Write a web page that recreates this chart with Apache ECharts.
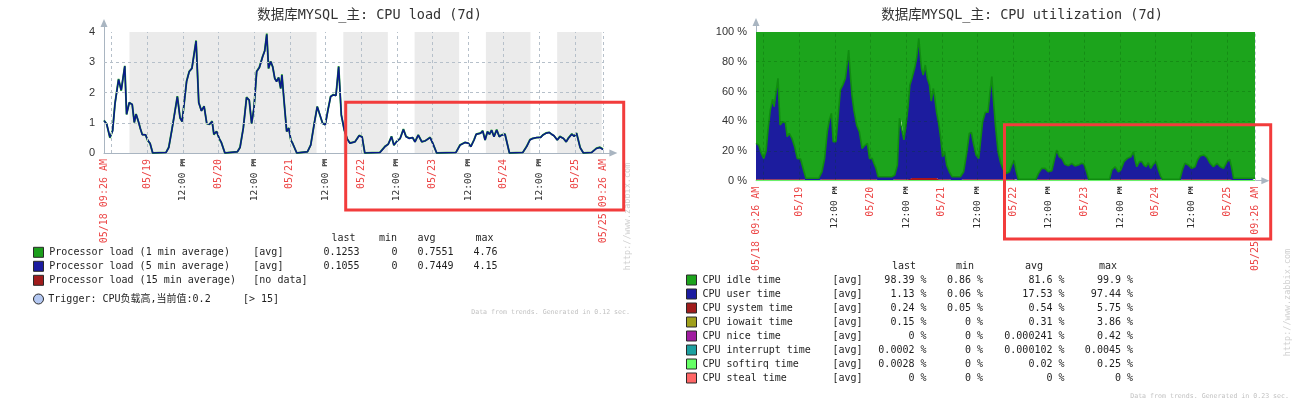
<!DOCTYPE html>
<html><head><meta charset="utf-8">
<script src="https://cdn.jsdelivr.net/npm/echarts@6/dist/echarts.min.js"></script>
<style>html,body{margin:0;padding:0;background:#fff}#c{width:1301px;height:413px}</style>
</head><body><div id="c"></div>
<script>
// ---------- data ----------
const startTime = '05/18 09:26';
const spanHours = 171.5; // axis length incl. arrow overhang (data covers 168h)

const tickTimes = ['05/18 09:26','05/18 12:00','05/19 00:00','05/19 12:00','05/20 00:00','05/20 12:00','05/21 00:00','05/21 12:00','05/22 00:00','05/22 12:00','05/23 00:00','05/23 12:00','05/24 00:00','05/24 12:00','05/25 00:00','05/25 09:26'];
const tickLabels = ['05/18 09:26 AM','12:00 PM','05/19','12:00 PM','05/20','12:00 PM','05/21','12:00 PM','05/22','12:00 PM','05/23','12:00 PM','05/24','12:00 PM','05/25','05/25 09:26 AM'];
const offTime = [['05/18 18:00','05/21 09:00'],['05/21 18:00','05/22 09:00'],['05/22 18:00','05/23 09:00'],['05/23 18:00','05/24 09:00'],['05/24 18:00','05/25 09:00']];
const loadTicks = [0,1,2,3,4];
const loadGrid = [1,2,3];
const cpuTicks = [0,20,40,60,80,100];
const cpuGrid = [20,40,60,80];

// hours since 05/18 09:26
const loadHours = [0,0.9,2.0,2.9,3.7,4.3,4.9,5.8,7.0,7.6,
8.5,9.5,10.2,10.8,11.7,12.2,12.9,14.0,14.7,15.5,
16.4,20.9,21.8,22.8,23.6,24.7,25.6,26.3,27.8,28.7,
29.6,31.0,31.9,32.8,33.7,34.6,35.5,36.4,37.0,37.9,
38.8,39.5,40.7,44.9,45.8,46.9,48.0,48.9,49.7,50.5,
51.4,52.3,53.4,54.1,54.8,55.4,56.1,56.8,57.5,58.1,
58.8,59.5,59.9,60.6,61.5,62.2,62.9,63.5,64.9,68.5,
69.6,70.8,71.8,72.7,73.6,74.5,75.4,76.3,77.2,78.1,
79.0,79.9,80.9,81.9,82.8,84.5,85.9,86.9,87.8,92.9,
94.6,95.7,96.8,97.6,98.5,99.7,100.8,101.7,102.8,103.9,
104.7,105.8,107.0,108.1,109.8,110.7,112.0,118.5,119.9,121.6,
122.7,123.5,124.6,125.3,126.8,127.5,128.3,129.1,129.8,130.5,
131.3,132.2,133.1,133.9,135.0,136.5,141.0,142.3,143.4,144.3,
145.7,147.0,147.7,148.8,149.9,150.7,151.5,152.6,153.5,154.7,
155.6,156.3,157.5,158.3,159.1,160.3,161.4,164.2,165.8,167.0,
168.0];
const load1 = [1.08,0.96,0.50,0.75,1.63,1.64,2.45,2.06,2.88,1.27,
1.67,1.60,1.01,1.29,1.00,0.82,0.61,0.60,0.42,0.32,
0,0.02,0.19,0.74,1.21,1.88,1.16,1.04,2.37,2.70,
2.80,3.72,1.66,1.40,1.55,0.97,0.95,1.05,0.61,0.72,
0.47,0.35,0,0.04,0.19,0.83,1.85,1.74,0.97,1.49,
2.70,2.83,3.19,3.38,3.95,2.79,3.03,2.85,2.46,2.37,
2.50,2.13,2.60,1.74,0.71,0.83,0.43,0.32,0,0.04,
0.27,0.99,1.54,1.25,0.98,0.94,1.43,1.87,1.93,1.90,
2.87,1.25,0.76,0.46,0.33,0.37,0.58,0.53,0,0.02,
0.22,0.29,0.55,0.26,0.38,0.48,0.79,0.54,0.49,0.51,
0.37,0.60,0.37,0.40,0.52,0.32,0,0.02,0.27,0.35,
0.32,0.21,0.44,0.62,0.66,0.74,0.43,0.71,0.62,0.76,
0.54,0.77,0.54,0.60,0.63,0,0.02,0.22,0.44,0.48,
0.51,0.52,0.59,0.66,0.68,0.62,0.57,0.43,0.55,0.48,
0.37,0.49,0.63,0.55,0.66,0.18,0,0.02,0.16,0.19,
0.13];
const load5 = [1.07,0.96,0.52,0.73,1.63,1.62,2.43,2.08,2.87,1.28,
1.66,1.61,1.01,1.28,1.01,0.82,0.60,0.60,0.43,0.32,
0,0.02,0.18,0.73,1.20,1.86,1.17,1.04,2.36,2.69,
2.80,3.70,1.67,1.39,1.54,0.98,0.95,1.04,0.62,0.71,
0.48,0.35,0,0.04,0.18,0.82,1.83,1.75,0.98,1.48,
2.69,2.82,3.18,3.37,3.92,2.80,3.02,2.85,2.47,2.36,
2.49,2.14,2.58,1.75,0.71,0.82,0.43,0.32,0,0.04,
0.26,0.98,1.53,1.26,0.98,0.93,1.42,1.86,1.92,1.90,
2.85,1.26,0.76,0.46,0.32,0.37,0.57,0.53,0,0.02,
0.21,0.29,0.54,0.26,0.37,0.48,0.78,0.54,0.48,0.51,
0.37,0.59,0.37,0.40,0.51,0.32,0,0.02,0.26,0.35,
0.32,0.21,0.43,0.62,0.65,0.73,0.43,0.70,0.62,0.75,
0.54,0.76,0.54,0.59,0.62,0,0.02,0.21,0.43,0.48,
0.51,0.51,0.59,0.65,0.68,0.62,0.57,0.43,0.54,0.48,
0.37,0.48,0.62,0.55,0.65,0.18,0,0.02,0.15,0.18,
0.11];

const cpuHours = [0,0.9,1.8,2.6,3.4,4.0,4.8,5.6,6.1,6.7,
7.4,8.1,9.0,9.9,10.5,11.2,12.1,13.0,13.9,15.0,
16.0,16.8,21.1,22.2,23.1,24.0,24.7,25.4,26.0,26.9,
27.6,28.4,29.2,30.1,30.8,31.2,31.7,32.3,33.0,33.9,
34.8,35.7,36.8,37.5,38.2,39.1,39.7,40.4,41.1,45.8,
46.7,47.6,48.3,48.9,49.8,50.5,51.2,51.8,52.5,53.4,
54.1,54.8,55.2,55.7,56.3,57.0,57.7,58.4,59.0,59.7,
60.1,60.8,61.5,62.2,62.8,63.5,64.2,65.1,66.0,68.8,
69.9,71.0,71.8,72.5,73.2,74.1,75.0,75.7,76.3,77.2,
78.1,78.8,79.4,79.9,80.6,81.5,82.4,83.3,84.4,85.3,
86.1,86.9,87.5,88.3,94.2,95.1,96.2,97.3,98.4,99.6,
100.3,101.2,102.1,103.0,104.0,105.2,106.3,107.4,108.5,109.6,
110.4,111.3,112.0,119.0,119.8,120.9,122.0,122.8,123.9,125.0,
126.2,127.1,127.6,128.2,129.1,129.9,130.6,131.3,132.1,132.9,
133.8,134.7,135.5,136.2,136.9,142.7,143.6,144.4,145.6,146.7,
147.8,148.6,149.5,150.7,151.8,152.9,154.0,155.2,156.3,157.4,
158.6,159.5,160.3,160.8,167.0,168.0];
const cpuSystem = [1,1,1,1,1,1,1,1,1,1,
1,1,1,1,1,1,1,1,1,1,
1,0.3,0.3,1,1,1,1,1,1,1,
1,1,1,1,1,1,1,1,1,1,
1,1,1,1,1,1,1,1,0.3,0.3,
1,1,1,1,1,1,1,1,1.8,1.8,
1.8,1.8,1.8,1.8,1.8,1.8,1.8,1.8,1.8,1.8,
1.8,1.8,1,1,1,1,1,1,0.3,0.3,
1,1,1,1,1,1,1,1,1,1,
1,1,1,1,1,1,1,1,1,1,
1,1,1,0.3,0.3,1,1,1,1,1,
1,1,1,1,1,1,1,1,1,1,
1,1,0.3,0.3,1,1,1,1,1,1,
1,1,1,1,1,1,1,1,1,1,
1,1,1,1,0.3,0.3,1,1,1,1,
1,1,1,1,1,1,1,1,1,1,
1,1,1,0.3,0.3,0.3];
const cpuUser = [24.1,23.0,17.4,14.0,19.0,32.4,46.5,53.9,48.8,57.7,
67.8,36.4,38.7,38.0,28.6,30.8,27.5,21.9,14.0,13.6,
6.2,1.3,1.3,5.0,14.0,32.0,39.8,44.3,25.2,25.2,
41.0,60.0,63.3,67.8,79.5,86.9,72.3,56.6,45.9,36.4,
32.0,20.7,23.0,24.1,14.0,14.0,10.7,7.3,2.4,2.4,
2.8,9.5,41.0,39.8,26.4,36.4,48.8,63.3,67.0,73.8,
80.9,93.9,85.0,73.8,69.3,76.0,67.0,62.5,51.8,60.3,
55.4,44.2,37.6,27.5,15.1,18.5,9.5,5.0,2.4,2.4,
5.0,18.5,30.8,31.5,24.1,16.3,14.0,27.5,38.7,45.0,
45.0,58.9,69.0,54.4,36.4,18.5,10.7,6.2,3.9,5.0,
9.5,12.5,6.2,0.6,0.6,3.9,7.3,7.3,5.0,5.7,
11.8,19.6,15.1,14.0,10.0,9.1,10.7,8.9,9.5,10.7,
10.2,5.0,0.6,0.6,6.2,8.4,5.0,6.2,11.8,14.0,
15.1,18.5,12.9,8.4,11.8,11.8,9.5,8.4,11.1,7.3,
10.2,11.8,6.2,2.1,0.6,0.6,6.6,10.7,9.5,7.3,
8.4,12.9,15.6,16.3,14.7,10.7,8.4,10.7,8.4,7.3,
11.8,13.4,6.2,1.3,1.3,1.3];
const cpuIdle = [74.9,76.0,81.6,85.0,80.0,66.6,52.5,45.1,50.2,41.3,
31.2,62.6,60.3,61.0,70.4,68.2,71.5,77.1,85.0,85.4,
92.8,98.4,98.4,94.0,85.0,67.0,59.2,54.7,73.8,73.8,
58.0,39.0,35.7,31.2,19.5,12.1,26.7,42.4,53.1,62.6,
67.0,78.3,76.0,74.9,85.0,85.0,88.3,91.7,97.3,97.3,
96.2,89.5,58.0,59.2,72.6,62.6,50.2,35.7,31.2,24.4,
17.3,4.3,13.2,24.4,28.9,22.2,31.2,35.7,46.4,37.9,
42.8,54.0,61.4,71.5,83.9,80.5,89.5,94.0,97.3,97.3,
94.0,80.5,68.2,67.5,74.9,82.7,85.0,71.5,60.3,54.0,
54.0,40.1,30.0,44.6,62.6,80.5,88.3,92.8,95.1,94.0,
89.5,86.5,92.8,99.1,99.1,95.1,91.7,91.7,94.0,93.3,
87.2,79.4,83.9,85.0,89.0,89.9,88.3,90.1,89.5,88.3,
88.8,94.0,99.1,99.1,92.8,90.6,94.0,92.8,87.2,85.0,
83.9,80.5,86.1,90.6,87.2,87.2,89.5,90.6,87.9,91.7,
88.8,87.2,92.8,96.9,99.1,99.1,92.4,88.3,89.5,91.7,
90.6,86.1,83.4,82.7,84.3,88.3,90.6,88.3,90.6,91.7,
87.2,85.6,92.8,98.4,98.4,98.4];
const softirqHours = [0,42,84,126,168];
const cpuSoftirq = [0.03,0.01,0.02,0.02,0.003];

// legend tables
const loadNames = ['Processor load (1 min average)','Processor load (5 min average)','Processor load (15 min average)'];
const loadFn = ['[avg]','[avg]','[no data]'];
const loadLast = ['0.1253','0.1055',''];
const loadMin = ['0','0',''];
const loadAvg = ['0.7551','0.7449',''];
const loadMax = ['4.76','4.15',''];
const loadColors = ['#1c9e1c','#1c1ca0','#a01c1c'];
const triggerText = 'Trigger: CPU负载高,当前值:0.2';
const triggerLimit = '[> 15]';

const cpuNames = ['CPU idle time','CPU user time','CPU system time','CPU iowait time','CPU nice time','CPU interrupt time','CPU softirq time','CPU steal time'];
const cpuLast = ['98.39 %','1.13 %','0.24 %','0.15 %','0 %','0.0002 %','0.0028 %','0 %'];
const cpuMin = ['0.86 %','0.06 %','0.05 %','0 %','0 %','0 %','0 %','0 %'];
const cpuAvg = ['81.6 %','17.53 %','0.54 %','0.31 %','0.000241 %','0.000102 %','0.02 %','0 %'];
const cpuMax = ['99.9 %','97.44 %','5.75 %','3.86 %','0.42 %','0.0045 %','0.25 %','0 %'];
const cpuColors = ['#1ca41c','#1c1ca0','#a01c1c','#a0a01c','#a01ca0','#1ca0a0','#66ff66','#ff6666'];

// ---------- build ----------
const HOUR = 3600e3;
function t(s){const p=s.split(' ');const d=p[0].split('/');const hm=p[1].split(':');return Date.UTC(2018,+d[0]-1,+d[1],+hm[0],+hm[1]);}
const t0 = t(startTime);
const hr = s => (t(s)-t0)/HOUR;      // hours since start
const pxPerHour = 499/168;
const gridW = spanHours*pxPerHour;
const tickH = tickTimes.map(hr);
const gridH = tickH.slice(1);
const endH = 168;
const mono = "'DejaVu Sans Mono','Noto Sans CJK SC',monospace";
const red = '#ec4646';

function labelFor(v){
  let i=-1; for(let k=0;k<tickH.length;k++){ if(Math.abs(tickH[k]-v)<0.01){i=k;break;} }
  if(i<0) return '';
  const s = tickLabels[i];
  if(s==='12:00 PM') return '{n|12:00 }{p|PM}';
  return '{r|'+s+'}';
}
const xAxisBase = (gi)=>({
  type:'value', gridIndex:gi, min:0, max:spanHours,
  axisLine:{show:true, lineStyle:{color:'#a9b5c1', width:1}, symbol:['none','triangle'], symbolSize:[7,8]},
  axisTick:{show:false}, splitLine:{show:false},
  axisLabel:{customValues:tickH, rotate:90, margin:6, formatter:labelFor, hideOverlap:false,
    showMinLabel:true, showMaxLabel:true,
    rich:{r:{color:red, fontFamily:mono, fontSize:10}, n:{color:'#2a2a2a', fontFamily:mono, fontSize:9.5}, p:{color:'#2a2a2a', fontFamily:mono, fontSize:6.5, fontWeight:'bold'}}}
});

const leftVert = gridH.map(m=>[{coord:[m,0]},{coord:[m,4]}]);
const leftHor = loadGrid.map(v=>[{coord:[0,v]},{coord:[endH,v]}]);
const rightVert = gridH.slice(0,-1).map(m=>[{coord:[m,0]},{coord:[m,100]}]);
const rightHor = cpuGrid.map(v=>[{coord:[0,v]},{coord:[endH,v]}]);

// stacked series: value first so the stack applies to the y value (x = hours, y = percent)
const stackedData = vals => cpuHours.map((h,i)=>[vals[i], h]);

const option = {
  animation:false,
  grid:[
    {left:104, top:23, width:gridW, height:130, outerBoundsMode:'none'},
    {left:756, top:22, width:gridW, height:158.7, outerBoundsMode:'none'}
  ],
  xAxis:[xAxisBase(0), xAxisBase(1)],
  yAxis:[
    {type:'value', gridIndex:0, min:0, max:4+9/30.25,
     axisLine:{show:true, lineStyle:{color:'#a9b5c1'}, symbol:['none','triangle'], symbolSize:[7,8]},
     axisTick:{show:false}, splitLine:{show:false},
     axisLabel:{customValues:loadTicks, color:'#333', fontSize:11, fontFamily:'Liberation Sans', margin:9}},
    {type:'value', gridIndex:1, min:0, max:100+10/1.487,
     axisLine:{show:true, lineStyle:{color:'#a9b5c1'}, symbol:['none','triangle'], symbolSize:[7,8]},
     axisTick:{show:false}, splitLine:{show:false},
     axisLabel:{customValues:cpuTicks, color:'#333', fontSize:11, fontFamily:'Liberation Sans', margin:9, formatter:v=>v+' %'}}
  ],
  series:[
    {name:'bgLeft', type:'line', xAxisIndex:0, yAxisIndex:0, data:[], z:1, silent:true,
     markArea:{silent:true, itemStyle:{color:'#ebebeb'}, data:offTime.map(p=>[{coord:[hr(p[0]),0]},{coord:[hr(p[1]),4]}])},
     markLine:{silent:true, symbol:['none','none'], label:{show:false}, lineStyle:{type:[3,3], color:'#b6c0ca', width:1},
       emphasis:{disabled:true}, data:leftVert.concat(leftHor)}},
    {name:loadNames[0], type:'line', xAxisIndex:0, yAxisIndex:0, z:3, showSymbol:false,
     lineStyle:{color:'#1fa31f', width:1.9}, data:loadHours.map((h,i)=>[h,load1[i]])},
    {name:loadNames[1], type:'line', xAxisIndex:0, yAxisIndex:0, z:4, showSymbol:false,
     lineStyle:{color:'#0b188c', width:1.5}, data:loadHours.map((h,i)=>[h,load5[i]])},

    {name:cpuNames[2], type:'line', xAxisIndex:1, yAxisIndex:1, stack:'cpu', z:2, showSymbol:false,
     encode:{x:1, y:0}, lineStyle:{width:0}, areaStyle:{color:'#a8161a', opacity:1}, data:stackedData(cpuSystem)},
    {name:cpuNames[1], type:'line', xAxisIndex:1, yAxisIndex:1, stack:'cpu', z:3, showSymbol:false,
     encode:{x:1, y:0}, lineStyle:{width:1.6, color:'#108c10'}, areaStyle:{color:'#1c1c9e', opacity:1}, data:stackedData(cpuUser)},
    {name:cpuNames[0], type:'line', xAxisIndex:1, yAxisIndex:1, stack:'cpu', z:2, showSymbol:false,
     encode:{x:1, y:0}, lineStyle:{width:0}, areaStyle:{color:'#1ca41c', opacity:1}, data:stackedData(cpuIdle)},
    {name:cpuNames[6], type:'line', xAxisIndex:1, yAxisIndex:1, z:6, showSymbol:false,
     lineStyle:{width:1.2, color:'#6af06a'}, data:softirqHours.map((h,i)=>[h,cpuSoftirq[i]])},
    {name:'gridRight', type:'line', xAxisIndex:1, yAxisIndex:1, data:[], z:5, silent:true,
     markLine:{silent:true, symbol:['none','none'], label:{show:false}, emphasis:{disabled:true},
       lineStyle:{type:[3,3], color:'rgba(0,70,0,0.25)', width:1}, data:rightVert.concat(rightHor)}},
    {name:'gridRightEnd', type:'line', xAxisIndex:1, yAxisIndex:1, data:[], z:5, silent:true,
     markLine:{silent:true, symbol:['none','none'], label:{show:false}, emphasis:{disabled:true},
       lineStyle:{type:[3,3], color:'#c4ccd4', width:1}, data:[[{coord:[endH,0]},{coord:[endH,100]}]]}}
  ],
  graphic:[]
};

// ---------- text / decoration ----------
const G = option.graphic;
function txt(x,y,s,o){o=o||{};G.push({type:'text', x:x, y:y, rotation:o.rot||0, z:50, silent:true,
  style:{text:s, fill:o.fill||'#1e1e1e', font:o.font||('10px '+mono), align:o.align||'left', verticalAlign:'middle'}});}
function box(x,y,w,h,fill){G.push({type:'rect', z:50, silent:true, shape:{x:x,y:y,width:w,height:h}, style:{fill:fill, stroke:'#2a2a2a', lineWidth:1}});}

txt(369.5,15,'数据库MYSQL_主: CPU load (7d)',{align:'center', font:'13.5px '+mono, fill:'#333'});
txt(1022,15,'数据库MYSQL_主: CPU utilization (7d)',{align:'center', font:'13.5px '+mono, fill:'#333'});

// left legend
txt(331.5,238,'last'); txt(379,238,'min'); txt(417.5,238,'avg'); txt(475.5,238,'max');
const lRows=[252.3,266.3,280.3];
loadNames.forEach((n,i)=>{
  const y=lRows[i];
  box(33.5,y-5,10,10,loadColors[i]);
  txt(49.3,y,n); txt(253.3,y,loadFn[i]);
  txt(359.5,y,loadLast[i],{align:'right'}); txt(397.5,y,loadMin[i],{align:'right'});
  txt(453.5,y,loadAvg[i],{align:'right'}); txt(497.5,y,loadMax[i],{align:'right'});
});
G.push({type:'circle', z:50, silent:true, shape:{cx:38.5,cy:299,r:5}, style:{fill:'#b4c8f2', stroke:'#2a2a2a', lineWidth:1}});
txt(48.3,299,triggerText); txt(243,299,triggerLimit);
txt(630,312,'Data from trends. Generated in 0.12 sec.',{align:'right', font:'6.6px '+mono, fill:'#c2c2c2'});
txt(628,216.5,'http://www.zabbix.com',{align:'center', rot:Math.PI/2, font:'8.5px '+mono, fill:'#d0d0d0'});

// right legend
txt(892,266,'last'); txt(956,266,'min'); txt(1025,266,'avg'); txt(1099,266,'max');
cpuNames.forEach((n,i)=>{
  const y=280+14*i;
  box(686.5,y-5,10,10,cpuColors[i]);
  txt(702.5,y,n); txt(832.5,y,'[avg]');
  txt(926.5,y,cpuLast[i],{align:'right'}); txt(983,y,cpuMin[i],{align:'right'});
  txt(1064.5,y,cpuAvg[i],{align:'right'}); txt(1133,y,cpuMax[i],{align:'right'});
});
txt(1289,396,'Data from trends. Generated in 0.23 sec.',{align:'right', font:'6.6px '+mono, fill:'#c2c2c2'});
txt(1288,302.5,'http://www.zabbix.com',{align:'center', rot:Math.PI/2, font:'8.5px '+mono, fill:'#d0d0d0'});

// red highlight boxes
G.push({type:'rect', z:100, silent:true, shape:{x:345.7,y:102.3,width:278,height:107.7}, style:{fill:'none', stroke:'#f23c3c', lineWidth:3}});
G.push({type:'rect', z:100, silent:true, shape:{x:1004.5,y:124.8,width:266.2,height:114.2}, style:{fill:'none', stroke:'#f23c3c', lineWidth:3}});

const chart = echarts.init(document.getElementById('c'));
chart.setOption(option);
</script></body></html>
